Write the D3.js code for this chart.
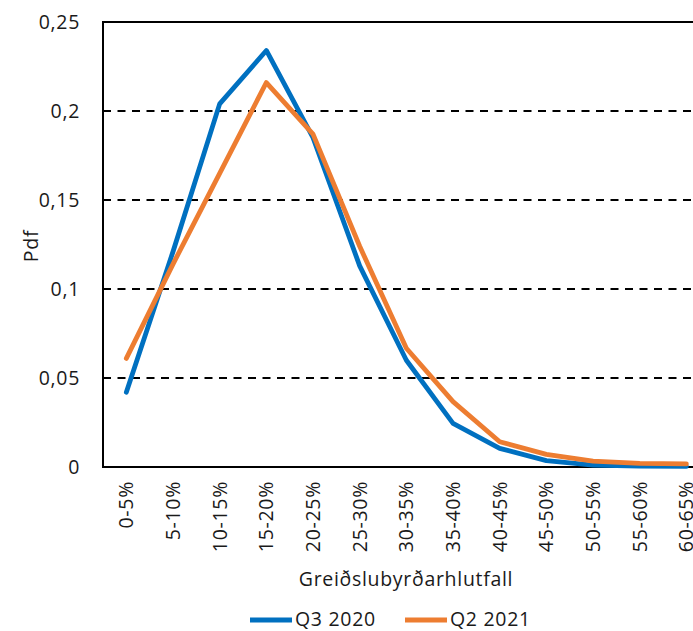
<!DOCTYPE html>
<html>
<head>
<meta charset="utf-8">
<script src="https://cdn.jsdelivr.net/npm/d3@7"></script>
<style>
  html, body { margin: 0; padding: 0; background: #fff; overflow: hidden; }
  svg { display: block; font-family: "Open Sans", "Noto Sans", sans-serif; }
</style>
</head>
<body>
<svg id="chart" width="693" height="631"></svg>
<script>
// Payment-burden ratio bins
const categories = ["0-5%", "5-10%", "10-15%", "15-20%", "20-25%", "25-30%", "30-35%",
                    "35-40%", "40-45%", "45-50%", "50-55%", "55-60%", "60-65%"];

// Probability density per bin
const q3_2020 = [0.042, 0.121, 0.204, 0.234, 0.185, 0.113, 0.060, 0.0245, 0.0105, 0.0036, 0.001, 0.0005, 0.0003];
const q2_2021 = [0.061, 0.114, 0.165, 0.216, 0.187, 0.124, 0.0667, 0.0367, 0.0142, 0.0071, 0.0033, 0.002, 0.0017];

const seriesNames = ["Q3 2020", "Q2 2021"];
const seriesColors = ["#0070C0", "#ED7D31"];

const yTicks = [0, 0.05, 0.1, 0.15, 0.2, 0.25];
const yTickLabels = ["0", "0,05", "0,1", "0,15", "0,2", "0,25"];

const xTitle = "Greiðslubyrðarhlutfall";
const yTitle = "Pdf";

const textColor = "#1a1a1a";
const fontSize = 19.5;
const spacing = 0.7;

const svg = d3.select("#chart");
const plotLeft = 103, plotTop = 22, plotH = 445, bandW = 46.67;
const plotW = bandW * categories.length;

const x = d3.scaleBand().domain(categories).range([plotLeft, plotLeft + plotW]);
const y = d3.scaleLinear().domain([0, 0.25]).range([plotTop + plotH, plotTop]);
const cx = d => x(d) + x.bandwidth() / 2;

// dashed horizontal gridlines
svg.append("g").selectAll("line")
  .data(yTicks.filter(t => t > 0 && t < 0.25))
  .join("line")
  .attr("x1", plotLeft).attr("x2", plotLeft + plotW)
  .attr("y1", d => y(d)).attr("y2", d => y(d))
  .attr("stroke", "#000").attr("stroke-width", 2)
  .attr("stroke-dasharray", "8,6.5");

// plot frame
svg.append("rect")
  .attr("x", plotLeft).attr("y", plotTop)
  .attr("width", plotW).attr("height", plotH)
  .attr("fill", "none").attr("stroke", "#000").attr("stroke-width", 2);

// y axis labels
const yAxis = d3.axisLeft(y).tickValues(yTicks)
  .tickFormat((d, i) => yTickLabels[i]).tickSize(0).tickPadding(23);
const gy = svg.append("g").attr("transform", `translate(${plotLeft},0)`).call(yAxis);
gy.select(".domain").remove();
gy.selectAll("text").attr("font-size", fontSize).attr("fill", textColor)
  .attr("letter-spacing", spacing)
  .attr("font-family", "'Open Sans', sans-serif");

// x axis labels, rotated
const xAxis = d3.axisBottom(x).tickSize(0).tickPadding(0);
const gx = svg.append("g").attr("transform", `translate(0,${plotTop + plotH})`).call(xAxis);
gx.select(".domain").remove();
gx.selectAll("text")
  .attr("font-size", fontSize).attr("fill", textColor)
  .attr("letter-spacing", spacing)
  .attr("font-family", "'Open Sans', sans-serif")
  .attr("text-anchor", "end")
  .attr("dy", null)
  .attr("y", 0)
  .attr("transform", "translate(7,14) rotate(-90)");

// axis titles
svg.append("text")
  .attr("x", plotLeft + 303).attr("y", 586)
  .attr("text-anchor", "middle").attr("font-size", fontSize).attr("fill", textColor)
  .attr("letter-spacing", spacing)
  .text(xTitle);
svg.append("text")
  .attr("transform", `translate(38,246) rotate(-90)`)
  .attr("text-anchor", "middle").attr("font-size", fontSize).attr("fill", textColor)
  .attr("letter-spacing", spacing)
  .text(yTitle);

// series lines
const line = d3.line().x((d, i) => cx(categories[i])).y(d => y(d));
[q3_2020, q2_2021].forEach((vals, k) => {
  svg.append("path")
    .datum(vals)
    .attr("d", line)
    .attr("fill", "none")
    .attr("stroke", seriesColors[k])
    .attr("stroke-width", 4.8)
    .attr("stroke-linejoin", "round")
    .attr("stroke-linecap", "round");
});

// legend
const legendX = [250, 405];
seriesNames.forEach((name, k) => {
  const lx = legendX[k];
  svg.append("line")
    .attr("x1", lx).attr("x2", lx + 42)
    .attr("y1", 620).attr("y2", 620)
    .attr("stroke", seriesColors[k]).attr("stroke-width", 4.8);
  svg.append("text")
    .attr("x", lx + 45).attr("y", 626)
    .attr("font-size", fontSize).attr("fill", textColor)
    .attr("letter-spacing", spacing)
    .text(name);
});
</script>
</body>
</html>
